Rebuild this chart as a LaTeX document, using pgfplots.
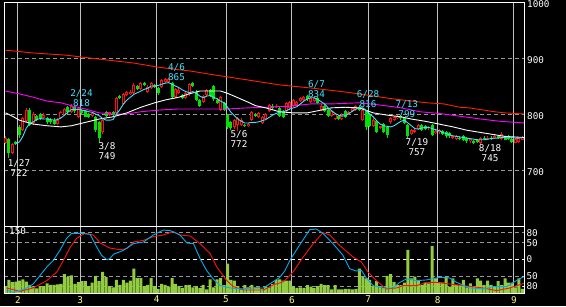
\documentclass[border=0pt]{standalone}
\usepackage{pgfplots}
\usepackage{pgfplotstable}
\pgfplotsset{compat=1.18}
\usepackage{fontspec}
\setmainfont{DejaVu Sans Mono}
\newcommand{\lab}{\fontsize{9.3pt}{10pt}\selectfont}
\definecolor{cred}{RGB}{255,16,16}
\definecolor{cgreen}{RGB}{0,226,0}
\definecolor{ccyan}{RGB}{64,226,255}
\definecolor{cmag}{RGB}{255,0,255}
\definecolor{cmared}{RGB}{255,32,0}
\definecolor{cvol}{RGB}{146,204,64}
\definecolor{cgrid}{RGB}{192,192,192}
\definecolor{cdash}{RGB}{150,150,150}
\definecolor{cyel}{RGB}{255,255,128}

\pgfplotstableread{
i o h l c
0 749 760 746 757
2 731 748 729 746
5 771 795 769 793
6 788 811 786 808
8 784 803 780 800
11 793 801 791 799
15 782 792 780 790
16 793 806 791 804
17 798 810 796 809
19 803 818 801 815
21 795 812 792 810
25 796 804 794 802
28 767 791 765 789
30 798 804 796 803
32 802 831 800 829
34 818 838 816 835
35 834 841 832 839
36 836 842 834 840
37 838 855 836 852
39 845 857 843 855
41 840 851 838 848
42 846 857 844 855
45 849 862 847 860
46 858 864 856 862
47 857 865 855 862
49 830 847 828 845
50 838 846 836 843
52 828 840 826 838
53 835 856 833 853
57 822 834 820 832
58 834 845 832 843
62 808 832 805 830
66 776 791 774 789
67 780 794 770 792
68 780 793 778 790
70 778 784 776 782
71 789 806 787 804
73 795 803 793 801
74 784 796 782 794
75 791 802 789 800
76 805 818 803 816
78 812 818 810 815
81 805 822 803 820
82 810 824 808 822
83 815 827 813 825
84 816 824 814 822
85 823 830 821 828
86 825 832 823 830
88 822 830 820 828
89 824 830 822 828
91 808 817 805 815
94 797 808 795 806
95 791 802 789 800
97 791 801 789 799
99 800 805 798 803
100 805 812 803 810
101 808 816 806 815
103 789 810 787 808
106 778 792 776 790
108 775 779 773 778
111 785 795 783 793
112 790 797 788 795
113 793 799 791 797
117 764 773 762 771
118 768 773 766 771
119 773 782 771 780
122 775 778 772 776
124 766 772 764 770
125 767 773 765 771
129 757 762 755 760
130 755 762 753 760
134 751 756 749 755
137 748 759 745 757
139 755 760 753 758
141 757 762 755 761
143 755 767 754 765
147 749 757 748 755
148 750 758 748 757
149 754 760 753 759
}\up

\pgfplotstableread{
i o h l c
1 755 757 722 730
3 750 752 745 747
4 777 780 758 762
7 808 810 778 781
9 797 799 788 790
10 800 802 790 792
12 793 795 783 785
13 789 792 782 785
14 790 792 781 783
18 812 814 800 803
20 812 814 802 805
22 808 809 799 801
23 806 808 794 795
24 800 802 793 795
26 795 797 768 772
27 785 787 749 757
29 803 806 794 796
31 804 806 796 798
33 832 834 826 828
38 850 852 843 845
40 856 858 850 852
43 852 854 846 848
44 846 848 834 838
48 856 858 828 831
51 834 836 827 829
54 855 857 848 850
55 840 842 823 825
56 825 827 812 815
59 843 845 830 832
60 850 852 824 826
61 825 828 818 820
63 820 822 806 808
64 798 800 774 776
65 786 788 772 775
69 780 782 776 778
72 800 802 795 797
77 815 817 808 810
79 810 812 794 796
80 805 807 793 795
87 832 834 824 826
90 829 831 818 820
92 815 817 803 805
93 807 809 795 797
96 797 799 789 791
98 805 807 793 795
102 812 816 806 808
104 806 808 772 776
105 800 802 776 778
107 788 790 766 768
109 782 784 766 768
110 776 778 758 762
114 796 798 790 792
115 793 795 782 784
116 780 782 757 760
120 780 782 770 772
121 778 780 772 774
123 780 782 760 763
126 770 772 762 764
127 768 770 758 760
128 766 768 758 760
131 758 760 753 755
132 760 762 752 754
133 757 759 749 751
135 752 754 746 748
136 753 755 748 750
138 758 760 753 755
140 758 760 754 755
142 761 763 756 757
144 757 759 753 754
145 760 762 754 755
146 756 757 749 750
}\dn

\pgfplotstableread{
i v
0 16
1 30
2 25
3 26
4 28
5 31
6 26
7 19
8 13
9 11
10 16
11 16
12 22
13 19
14 19
15 20
16 21
17 43
18 36
19 40
20 21
21 25
22 27
23 27
24 16
25 24
26 39
27 27
28 48
29 36
30 16
31 13
32 30
33 19
34 30
35 24
36 28
37 55
38 34
39 34
40 16
41 19
42 34
43 16
44 10
45 21
46 19
47 15
48 34
49 21
50 16
51 12
52 18
53 19
54 13
55 16
56 12
57 19
58 9
59 31
60 13
61 31
62 34
63 18
64 66
65 30
66 28
67 16
68 9
69 18
70 13
71 19
72 13
73 13
74 10
75 16
76 13
77 21
78 30
79 31
80 28
81 28
82 28
83 16
84 12
85 13
86 12
87 18
88 15
89 12
90 16
91 21
92 18
93 18
94 9
95 18
96 9
97 9
98 10
99 10
100 9
101 10
102 55
103 36
104 33
105 30
106 16
107 27
108 16
109 12
110 39
111 43
112 25
113 18
114 18
115 24
116 97
117 33
118 37
119 30
120 19
121 24
122 22
123 105
124 33
125 25
126 24
127 36
128 15
129 33
130 18
131 19
132 30
133 13
134 22
135 15
136 33
137 28
138 18
139 28
140 19
141 15
142 27
143 18
144 33
145 24
146 24
147 13
148 33
149 10
}\vol

\begin{document}
\begin{tikzpicture}
\path[use as bounding box] (0,0) rectangle (566pt,306pt);
\fill[black] (0,0) rectangle (566pt,306pt);

% ---------------- main price panel ----------------
\begin{axis}[
  at={(4pt,80pt)}, anchor=south west, scale only axis,
  width=520pt, height=224pt,
  xmin=-0.43, xmax=149.47, ymin=600, ymax=1000,
  axis line style={white, line width=0.8pt},
  xtick={3.55,21.55,43.55,63.55,82.55,104.55,124.55,146.55},
  xticklabel={},
  ytick={700,800,900,1000},
  yticklabels={700,800,900,1000},
  yticklabel pos=right,
  major tick length=0pt,
  xmajorgrids, ymajorgrids,
  major x grid style={cgrid, line width=0.8pt},
  major y grid style={cdash, line width=0.8pt, dash pattern=on 4pt off 3pt},
  yticklabel style={anchor=west, inner sep=0pt, xshift=3pt, yshift=-2pt, text=white, font=\lab},
]
% up candles (red, hollow)
\addplot[cred, line width=1pt, quiver={u=0, v=\thisrow{h}-\thisrow{l}}] table[x=i, y=l] {\up};
\addplot[cred, line width=3pt, quiver={u=0, v={max(\thisrow{c}-\thisrow{o},1.8)}}] table[x=i, y=o] {\up};
\addplot[black, line width=1.1pt, quiver={u=0, v={max(\thisrow{c}-\thisrow{o}-3.6,0)}}] table[x=i, y expr=\thisrow{o}+1.8] {\up};
% down candles (green, filled)
\addplot[cgreen, line width=1pt, quiver={u=0, v=\thisrow{h}-\thisrow{l}}] table[x=i, y=l] {\dn};
\addplot[cgreen, line width=3pt, quiver={u=0, v={max(\thisrow{o}-\thisrow{c},1.8)}}] table[x=i, y=c] {\dn};

% long moving average (red)
\addplot[cmared, line width=0.9pt] coordinates {(0,914) (8,909) (17.6,905) (27,898) (37,891) (43.6,884) (50,879) (53,877) (60,870) (69.6,861) (79,852) (88.7,846) (98.3,839) (104,834) (111.7,827) (121.5,820) (126.4,818) (131,812) (133.7,811) (141,804) (144,802) (149.5,800)};
% magenta moving average
\addplot[cmag, line width=0.9pt] coordinates {(0,841) (4,836) (8,830) (12,823) (16,820) (19.5,814) (23,809) (27,802) (31,800) (35,800) (39,804) (44,807) (50,809) (64,809) (70,811) (75,812) (82,814) (88,818) (94,818) (102,820) (108,816) (114,811) (119.5,804) (125,801) (131,796) (137,791) (142.5,787) (149.5,784)};
% white moving average
\addplot[white, line width=0.9pt] coordinates {(0,802) (2,796) (4,789) (8,782) (12,779) (16,777) (19,779) (23,785) (27,791) (31,795) (35,802) (39,812) (43,820) (46,825) (50,830) (53,836) (56,841) (62,841) (64,837) (67,829) (70,821) (72,815) (75,811) (79,804) (83,802) (87,802) (91,807) (94,811) (98,812) (102,811) (106,802) (110,798) (114,795) (117,791) (121,787) (125,782) (129,777) (133,771) (137,767) (140,764) (144,760) (149.5,758)};
% cyan short moving average
\addplot[ccyan, line width=0.9pt] coordinates {(3,748) (4,750) (5,760) (6,775) (7,783) (8,786) (9,790) (10,792) (11,791) (12,791) (13,790) (14,789) (15,790) (16,793) (17,798) (18,803) (19,808) (20,808) (21,808) (22,807) (23,806) (24,804) (25,803) (26,800) (27,797) (28,792) (29,789) (30,789) (31,790) (32,800) (33,808) (34,818) (35,825) (36,830) (37,835) (38,838) (39,841) (40,844) (41,846) (42,850) (43,850) (44,851) (45,853) (46,855) (47,856) (48,853) (49,850) (50,847) (51,843) (52,840) (53,838) (54,840) (55,837) (56,832) (57,829) (58,832) (59,833) (60,830) (61,827) (62,823) (63,820) (64,812) (65,803) (66,797) (67,791) (68,787) (69,784) (70,784) (71,785) (72,785) (73,786) (74,788) (75,790) (76,794) (77,798) (78,801) (79,803) (80,804) (81,806) (82,809) (83,811) (84,813) (85,818) (86,823) (87,827) (88,829) (89,829) (90,826) (91,822) (92,818) (93,811) (94,806) (95,801) (96,798) (97,796) (98,797) (99,801) (100,805) (101,809) (102,811) (103,811) (104,806) (105,800) (106,795) (107,788) (108,782) (109,779) (110,778) (111,777) (112,779) (113,783) (114,787) (115,789) (116,784) (117,779) (118,774) (119,773) (120,775) (121,776) (122,776) (123,774) (124,772) (125,770) (126,767) (127,765) (128,763) (129,761) (130,760) (131,759) (132,758) (133,757) (134,756) (135,755) (136,754) (137,754) (138,754) (139,755) (140,756) (141,757) (142,757) (143,758) (144,758) (145,759) (146,758) (147,757) (148,757) (149,758)};

% peak / trough annotations
\node[font=\lab, text=white, align=center, inner sep=0pt] at (axis cs:3.89,703.6) {1/27\\722};
\node[font=\lab, text=ccyan, align=center, inner sep=0pt] at (axis cs:21.9,828.6) {2/24\\818};
\node[font=\lab, text=white, align=center, inner sep=0pt] at (axis cs:29.26,733) {3/8\\749};
\node[font=\lab, text=ccyan, align=center, inner sep=0pt] at (axis cs:49.3,874) {4/6\\865};
\node[font=\lab, text=white, align=center, inner sep=0pt] at (axis cs:67.3,755.4) {5/6\\772};
\node[font=\lab, text=ccyan, align=center, inner sep=0pt] at (axis cs:89.65,844.6) {6/7\\834};
\node[font=\lab, text=ccyan, align=center, inner sep=0pt] at (axis cs:104.5,826.8) {6/28\\816};
\node[font=\lab, text=ccyan, align=center, inner sep=0pt] at (axis cs:115.7,808.9) {7/13\\799};
\node[font=\lab, text=white, align=center, inner sep=0pt] at (axis cs:118.6,741) {7/19\\757};
\node[font=\lab, text=white, align=center, inner sep=0pt] at (axis cs:139.7,729.5) {8/18\\745};
\end{axis}

% ---------------- lower panel: grid and labels ----------------
\begin{axis}[
  at={(4pt,12.7pt)}, anchor=south west, scale only axis,
  width=520pt, height=67.3pt,
  xmin=-0.43, xmax=149.47, ymin=-102, ymax=100,
  axis line style={white, line width=0.8pt},
  xtick={3.55,21.55,43.55,63.55,82.55,104.55,124.55,146.55},
  xticklabels={2,3,4,5,6,7,8,9},
  xticklabel style={anchor=north, inner sep=0pt, yshift=-2.7pt, text=cyel, font=\lab},
  ytick={-80,-50,0,50,80},
  yticklabels={\llap{-}80,\llap{-}50,0,50,80},
  yticklabel pos=right,
  yticklabel style={anchor=west, inner sep=0pt, xshift=2.3pt, text=white, font=\lab},
  major tick length=0pt,
  xmajorgrids, ymajorgrids,
  major x grid style={cgrid, line width=0.8pt},
  major y grid style={cdash, line width=0.8pt, dash pattern=on 4pt off 3pt},
]
\draw[white, line width=0.8pt, dash pattern=on 4pt off 3pt] (axis cs:-0.43,0) -- (axis cs:149.47,0);
\end{axis}

% volume bars
\begin{axis}[
  at={(4pt,12.7pt)}, anchor=south west, scale only axis,
  width=520pt, height=67.3pt,
  xmin=-0.43, xmax=149.47, ymin=0, ymax=150,
  hide axis,
]
\addplot[ybar, bar width=3pt, fill=cvol, draw=none] table[x=i, y=v] {\vol};
\end{axis}

% oscillator lines
\begin{axis}[
  at={(4pt,12.7pt)}, anchor=south west, scale only axis,
  width=520pt, height=67.3pt,
  xmin=-0.43, xmax=149.47, ymin=-102, ymax=100,
  axis line style={white, line width=0.8pt},
  xtick=\empty, ytick=\empty,
]
\addplot[cred, line width=0.9pt] coordinates {(0.3,-86) (4.2,-96) (8,-86) (11.9,-64) (14.8,-38) (16.7,-3) (18.6,35) (20.5,63) (22.9,78) (25.3,73) (27.3,49) (30,34) (33,29) (35,32) (36.9,52) (39.8,57) (42.6,68) (45.5,73) (48.4,83) (50.3,73) (53.2,70) (56.1,47) (59,17) (60.9,-23) (63.8,-64) (65.7,-82) (68.6,-92) (74.4,-92) (77.3,-76) (79.7,-69) (80.5,-64) (82.9,-38) (85.8,7) (88.7,47) (91.5,80) (93.5,73) (96.3,42) (100.2,7) (102.6,-8) (104.5,-38) (106.9,-64) (109.8,-89) (112.7,-86) (114.6,-79) (118.5,-79) (121.3,-69) (124.2,-69) (128,-74) (131.9,-79) (137.7,-86) (141.5,-94) (145.4,-86) (149.4,-72)};
\addplot[cyan, line width=0.9pt] coordinates {(0.3,-93) (2.3,-99) (4.2,-93) (6.1,-86) (8,-74) (10,-48) (11.9,-23) (13.8,-3) (15.7,27) (17.6,63) (19.1,78) (21.5,78) (24.4,75) (26.3,37) (27.7,12) (29.2,-1) (30.1,2) (31.1,15) (34,27) (36.9,47) (39.8,52) (42.6,73) (45.5,88) (47.5,86) (50.3,73) (52.3,49) (54.2,47) (56.1,2) (58,-34) (59.9,-59) (61.9,-79) (64.8,-86) (67.6,-89) (71.5,-86) (74.4,-86) (77.3,-66) (79,-55) (80.5,-35) (82,-3) (83.8,27) (85.8,59) (87.7,89) (89.6,91) (91.5,78) (94.4,47) (97.3,12) (99.2,-28) (101,-35) (102.6,-33) (104,-56) (106,-79) (108.8,-86) (111.7,-86) (113.7,-69) (115.6,-59) (118.5,-64) (121.3,-62) (125.2,-54) (128,-56) (130,-69) (133.8,-86) (137.7,-89) (140.6,-82) (144.4,-82) (147.3,-64) (149.4,-52)};
\end{axis}

\node[anchor=west, font=\lab, text=white, inner sep=0pt] at (9pt,74.5pt) {150};
\end{tikzpicture}
\end{document}
